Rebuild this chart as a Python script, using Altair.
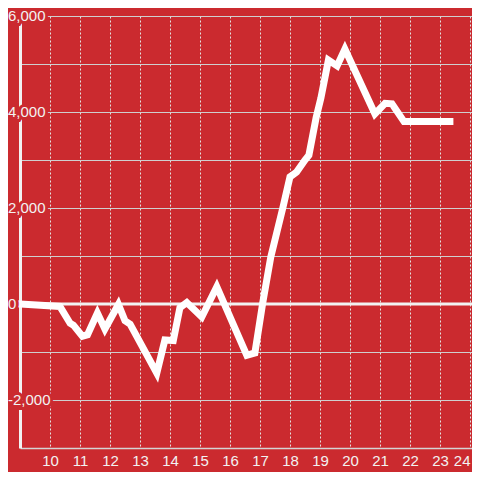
import altair as alt
import pandas as pd

# data
hours = [9.0, 10.33, 10.67, 10.78, 11.08, 11.25, 11.58, 11.83, 12.28, 12.5, 12.67,
         13.56, 13.83, 14.11, 14.33, 14.56, 15.06, 15.56, 16.56, 16.83, 17.09,
         17.36, 17.76, 18.0, 18.22, 18.5, 18.63, 18.87, 19.03, 19.28, 19.57,
         19.83, 20.83, 21.17, 21.4, 21.8, 23.33]
values = [0, -50, -400, -440, -670, -640, -190, -520, -10, -350, -420,
          -1440, -750, -760, -80, 30, -270, 360, -1070, -1020, 20,
          980, 2000, 2650, 2750, 3000, 3100, 3880, 4290, 5080, 4960,
          5310, 3960, 4180, 4170, 3800, 3800]

y_ticks = [-2000, 0, 2000, 4000, 6000]
y_labels = ["-2,000", "0", "2,000", "4,000", "6,000"]
y_grid = [-2000, -1000, 0, 1000, 2000, 3000, 4000, 5000, 6000]
x_ticks = list(range(10, 25))

BG = "#cb2a2f"
FG = "#f2f2f2"
FONT = "Liberation Sans"

df = pd.DataFrame({"h": hours, "v": values})
lab = pd.DataFrame({"v": y_ticks, "label": y_labels})

xs = alt.Scale(domain=[9, 24.0667], nice=False, zero=False)
ys = alt.Scale(domain=[-3000, 6000], nice=False, zero=False)

line = alt.Chart(df).mark_line(
    color="#ffffff", strokeWidth=7, strokeCap="square", strokeJoin="miter"
).encode(
    x=alt.X("h:Q", scale=xs, title=None,
            axis=alt.Axis(values=x_ticks, format="d", grid=True, gridDash=[2, 2],
                          gridColor="#e2e2e2", gridWidth=1, ticks=False,
                          labelColor=FG, labelFontSize=15, labelFont=FONT,
                          labelPadding=5, domainColor="#d4d4d4", domainWidth=1.5,
                          labelFlush=False, zindex=0,
                          labelAlign={"condition": {"test": "datum.value == 24",
                                                    "value": "right"},
                                      "value": "center"})),
    y=alt.Y("v:Q", scale=ys, title=None,
            axis=alt.Axis(values=y_grid, labels=False, ticks=False, grid=True,
                          gridColor="#cfcfcf", gridWidth=1, domainColor=FG,
                          domainWidth=3, zindex=0)),
)

zero = alt.Chart(pd.DataFrame({"z": [0]})).mark_rule(
    color=FG, strokeWidth=3
).encode(y=alt.Y("z:Q", scale=ys))

halo = alt.Chart(lab).mark_text(
    align="left", baseline="middle", font=FONT, fontSize=15,
    fill=BG, stroke=BG, strokeWidth=6
).encode(x=alt.value(-12), y=alt.Y("v:Q", scale=ys), text="label:N")

text = alt.Chart(lab).mark_text(
    align="left", baseline="middle", font=FONT, fontSize=15, fill=FG
).encode(x=alt.value(-12), y=alt.Y("v:Q", scale=ys), text="label:N")

chart = alt.layer(zero, line, halo, text).properties(
    width=452, height=432,
    autosize=alt.AutoSizeParams(type="none"),
    padding={"left": 12, "top": 8, "right": 0, "bottom": 24},
    background=BG,
).configure_view(stroke=None)

chart.save("out.html", embed_options={"renderer": "svg", "actions": False})
